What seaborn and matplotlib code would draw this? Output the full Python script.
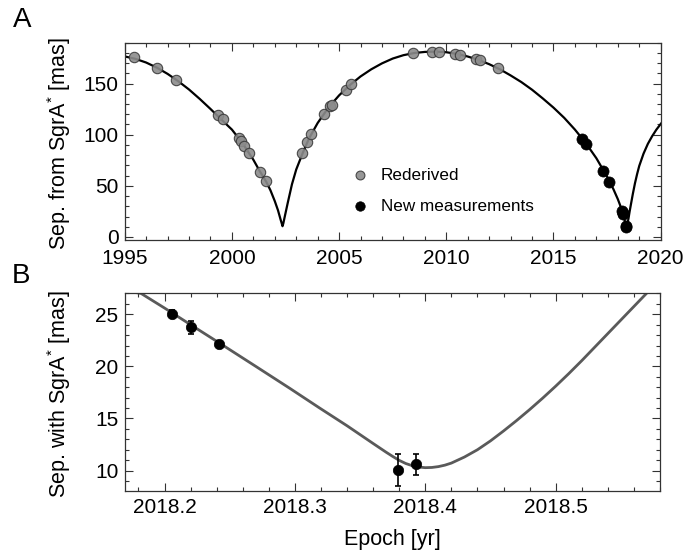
import matplotlib
matplotlib.use("Agg")
import matplotlib.pyplot as plt
import seaborn as sns
import pandas as pd
from matplotlib.ticker import MultipleLocator, FormatStrFormatter

# ---------------- data ----------------
# Panel A: orbit model curve
model_year = [1995.0, 1995.5, 1996.0, 1996.5, 1997.0, 1997.5, 1998.0, 1998.5, 1999.0,
              1999.5, 2000.0, 2000.5, 2001.0, 2001.3, 2001.6, 2001.8, 2002.0, 2002.15,
              2002.27, 2002.33, 2002.36, 2002.40, 2002.45, 2002.6, 2002.8, 2003.0, 2003.3,
              2003.6, 2004.0, 2004.5, 2005.0, 2005.5, 2006.0, 2006.5, 2007.0, 2007.5,
              2008.0, 2008.5, 2009.0, 2009.5, 2010.0, 2010.5, 2011.0, 2011.5, 2012.0,
              2012.5, 2013.0, 2013.5, 2014.0, 2014.5, 2015.0, 2015.5, 2016.0, 2016.5,
              2017.0, 2017.5, 2017.8, 2018.0, 2018.1, 2018.2, 2018.3, 2018.35, 2018.38,
              2018.40, 2018.42, 2018.45, 2018.5, 2018.55, 2018.6, 2018.7, 2018.8, 2018.9,
              2019.0, 2019.2, 2019.4, 2019.6, 2019.8, 2020.0, 2020.1]
model_sep = [176.6, 174.2, 170.6, 165.6, 159.5, 152.3, 144.2, 135.0, 125.2,
             115.0, 105.0, 91.5, 75.5, 64.3, 54.0, 45.5, 35.0, 26.0,
             17.0, 12.8, 10.5, 13.5, 18.5, 33.0, 51.5, 66.0, 82.0,
             96.5, 111.5, 126.5, 138.5, 148.5, 157.0, 164.0, 169.8, 174.5,
             177.8, 179.9, 181.0, 181.3, 180.7, 179.0, 176.5, 173.2, 169.0,
             164.0, 158.0, 151.5, 144.0, 135.5, 126.5, 116.5, 105.0, 92.0,
             77.0, 59.0, 46.5, 37.0, 31.5, 25.5, 18.0, 13.6, 11.0,
             10.3, 10.8, 13.0, 18.3, 24.7, 30.5, 42.0, 52.5, 61.5,
             69.5, 81.5, 91.0, 98.5, 105.0, 110.5, 113.0]

# Panel A: rederived astrometry
rederived_year = [1995.42, 1996.49, 1997.38, 1999.33, 1999.57, 2000.32, 2000.42, 2000.55,
                  2000.80, 2001.31, 2001.58, 2003.29, 2003.52, 2003.69, 2004.31, 2004.57,
                  2004.67, 2005.31, 2005.57, 2008.44, 2009.33, 2009.65, 2010.40, 2010.62,
                  2011.40, 2011.57, 2012.42]
rederived_sep = [176.2, 165.3, 153.5, 119.1, 115.0, 96.8, 94.0, 88.5,
                 82.4, 64.0, 55.1, 82.0, 92.5, 100.3, 120.4, 127.7,
                 129.4, 143.8, 149.6, 179.5, 180.9, 180.9, 179.3, 178.3,
                 174.3, 172.7, 165.3]

# Panel A: new measurements
new_year = [2016.32, 2016.52, 2017.32, 2017.61, 2018.206, 2018.220, 2018.242, 2018.379, 2018.393]
new_sep = [95.9, 91.0, 64.9, 53.7, 25.05, 23.75, 22.15, 10.05, 10.6]

# Panel B: zoom on pericentre passage
zoom_model_year = [2018.165, 2018.182, 2018.200, 2018.220, 2018.242, 2018.270, 2018.296,
                   2018.319, 2018.340, 2018.350, 2018.360, 2018.370, 2018.375, 2018.380,
                   2018.385, 2018.390, 2018.395, 2018.400, 2018.405, 2018.410, 2018.415,
                   2018.420, 2018.430, 2018.440, 2018.450, 2018.460, 2018.470, 2018.480,
                   2018.490, 2018.500, 2018.510, 2018.520, 2018.530, 2018.540, 2018.550,
                   2018.560, 2018.570, 2018.580]
zoom_model_sep = [27.35, 27.0, 25.6, 24.0, 22.25, 20.0, 17.9,
                  16.0, 14.3, 13.45, 12.6, 11.76, 11.36, 10.98,
                  10.68, 10.47, 10.34, 10.28, 10.30, 10.38, 10.52,
                  10.72, 11.3, 12.0, 12.85, 13.8, 14.8, 15.85,
                  16.95, 18.1, 19.3, 20.55, 21.85, 23.15, 24.45,
                  25.75, 27.05, 28.4]
zoom_year = [2018.206, 2018.220, 2018.242, 2018.379, 2018.393]
zoom_sep = [25.05, 23.75, 22.15, 10.05, 10.6]
zoom_err = [0.35, 0.65, 0.3, 1.5, 1.0]

# ---------------- style ----------------
sns.set_theme(style="ticks")
plt.rcParams["font.family"] = ["Liberation Sans", "DejaVu Sans"]
plt.rcParams["mathtext.fontset"] = "custom"
plt.rcParams["mathtext.rm"] = "Liberation Sans"
plt.rcParams["mathtext.it"] = "Liberation Sans:italic"
plt.rcParams["mathtext.default"] = "regular"
plt.rcParams["text.color"] = "black"
plt.rcParams["axes.labelcolor"] = "black"

fig = plt.figure(figsize=(6.88, 5.54), dpi=100)
ax1 = fig.add_axes([0.1813, 0.5662, 0.7790, 0.3567])
ax2 = fig.add_axes([0.1813, 0.1137, 0.7780, 0.3574])

spine_col = "#333333"
for ax in (ax1, ax2):
    for s in ax.spines.values():
        s.set_color(spine_col)
        s.set_linewidth(0.9)
    ax.tick_params(which="both", direction="in", top=True, right=True,
                   color=spine_col, labelcolor="black", width=0.8, labelsize=15)
    ax.tick_params(which="major", length=6)
    ax.tick_params(which="minor", length=3)

# ---- panel A ----
dfm = pd.DataFrame({"year": model_year, "sep": model_sep})
sns.lineplot(data=dfm, x="year", y="sep", ax=ax1, color="black", lw=1.6,
             sort=False, estimator=None, zorder=2)
dfr = pd.DataFrame({"year": rederived_year, "sep": rederived_sep})
sns.scatterplot(data=dfr, x="year", y="sep", ax=ax1, s=56, color="#8c8c8c",
                edgecolor="#3a3a3a", linewidth=0.8, alpha=0.9, zorder=3,
                label="Rederived")
dfn = pd.DataFrame({"year": new_year, "sep": new_sep})
sns.scatterplot(data=dfn, x="year", y="sep", ax=ax1, s=64, color="black",
                edgecolor="black", linewidth=0.5, zorder=4,
                label="New measurements")
ax1.set_xlim(1995, 2020)
ax1.set_ylim(-3.3, 190)
ax1.xaxis.set_major_locator(MultipleLocator(5))
ax1.xaxis.set_minor_locator(MultipleLocator(1))
ax1.yaxis.set_major_locator(MultipleLocator(50))
ax1.yaxis.set_minor_locator(MultipleLocator(10))
ax1.tick_params(axis="x", pad=6)
ax1.tick_params(axis="y", pad=4.5)
ax1.set_xlabel("")
ax1.set_ylabel(r"Sep. from SgrA$^{*}$ [mas]", fontsize=15.5)
ax1.yaxis.set_label_coords(-0.097, 0.49)

leg = ax1.legend(loc="upper left", bbox_to_anchor=(0.4235, 0.367), frameon=False,
                 fontsize=12.3, handlelength=1.0, handletextpad=0.7, labelspacing=0.92,
                 borderpad=0, borderaxespad=0, markerscale=0.85)

# ---- panel B ----
dfz = pd.DataFrame({"year": zoom_model_year, "sep": zoom_model_sep})
sns.lineplot(data=dfz, x="year", y="sep", ax=ax2, color="#5a5a5a", lw=2.0,
             sort=False, estimator=None, zorder=2)
ax2.errorbar(zoom_year, zoom_sep, yerr=zoom_err, fmt="none", ecolor="black",
             elinewidth=1.2, capsize=2.2, capthick=1.2, zorder=3)
dfp = pd.DataFrame({"year": zoom_year, "sep": zoom_sep})
sns.scatterplot(data=dfp, x="year", y="sep", ax=ax2, s=56, color="black",
                edgecolor="black", linewidth=0.5, zorder=4, legend=False)
ax2.set_xlim(2018.1695, 2018.580)
ax2.set_ylim(8.04, 27.04)
ax2.xaxis.set_major_locator(MultipleLocator(0.1))
ax2.xaxis.set_minor_locator(MultipleLocator(0.02))
ax2.yaxis.set_major_locator(MultipleLocator(5))
ax2.yaxis.set_minor_locator(MultipleLocator(1))
ax2.xaxis.set_major_formatter(FormatStrFormatter("%.1f"))
ax2.tick_params(axis="x", pad=5)
ax2.tick_params(axis="y", pad=4.5)
ax2.set_xlabel("Epoch [yr]", fontsize=15.5, labelpad=9)
ax2.set_ylabel(r"Sep. with SgrA$^{*}$ [mas]", fontsize=15.5)
ax2.yaxis.set_label_coords(-0.097, 0.49)

fig.text(0.019, 0.951, "A", fontsize=20, va="baseline", ha="left")
fig.text(0.017, 0.489, "B", fontsize=20, va="baseline", ha="left")

fig.savefig("out.png", dpi=100)
